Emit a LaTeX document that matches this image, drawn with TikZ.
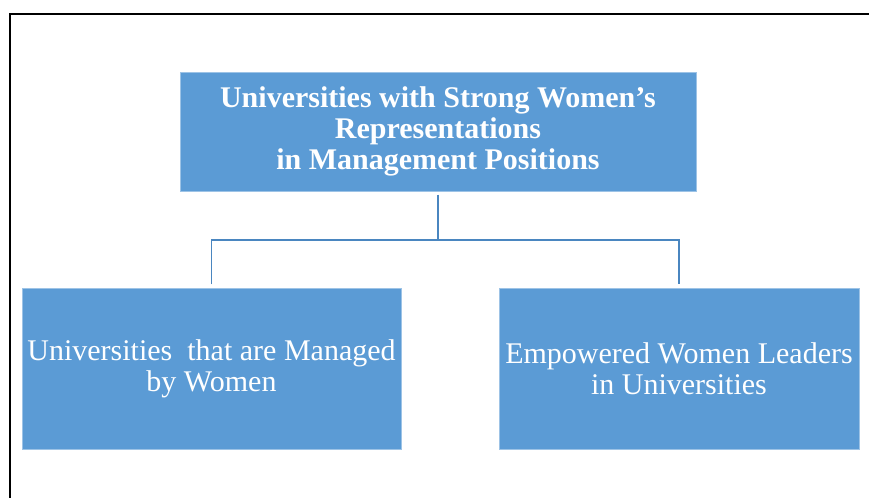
\documentclass[tikz,border=0pt]{standalone}
\usepackage{fontspec}
\setmainfont{Liberation Serif}
\definecolor{boxblue}{HTML}{5B9BD5}
\definecolor{linkblue}{HTML}{4A86C0}
\tikzset{
    unibox/.style={fill=boxblue, draw=boxblue!60!white, line width=0.4pt,
        text=white, align=center, font=\fontsize{22.5}{23.3}\selectfont, inner sep=0pt},
    link/.style={draw=linkblue, line width=1.4pt, shorten <=2.5, shorten >=2.5}
}
\begin{document}
\begin{tikzpicture}[x=0.75pt, y=-0.75pt]
\clip (0,0) rectangle (869,498);

% Outer frame
\draw[line width=1.6pt] (10,520) -- (10,14) -- (900,14);

% Top box
\node[unibox, font=\fontsize{22.5}{23.3}\selectfont\bfseries,
    minimum width=516*0.75pt, minimum height=119*0.75pt] (top) at (438,131.5)
    {Universities with Strong Women’s\\Representations\\in Management Positions};

% Lower boxes
\node[unibox, minimum width=379*0.75pt, minimum height=161*0.75pt] (left) at (211.5,368.5)
    {Universities\ \ that are Managed\\by Women};
\node[unibox, minimum width=360*0.75pt, minimum height=161*0.75pt] (right) at (679,368.5)
    {Empowered Women Leaders\\in Universities};

% Connectors
\coordinate (bus) at (438,240);
\draw[link, shorten >=0] (top.south) -- (bus);
\draw[link] (left.north) |- (bus) -| (right.north);
\end{tikzpicture}
\end{document}
